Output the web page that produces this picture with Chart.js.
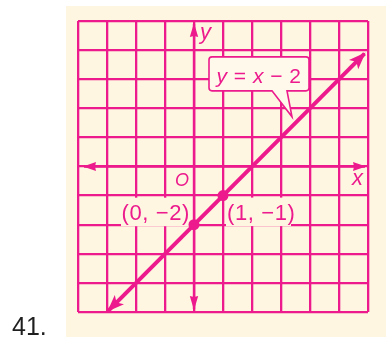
<!DOCTYPE html>
<html>
<head>
<meta charset="utf-8">
<script src="https://cdn.jsdelivr.net/npm/chart.js@4.4.0/dist/chart.umd.min.js"></script>
<style>
  html, body { margin: 0; padding: 0; background: #fff; }
  #wrap { position: relative; width: 386px; height: 339px; }
</style>
</head>
<body>
<div id="wrap"><canvas id="graph" width="386" height="339"></canvas></div>
<script>
// exercise 41: graph of y = x - 2
var xRange = [-4, 6];
var yRange = [-5, 5];
var lineX = [-2.95, 5.88];
var lineY = [-4.95, 3.88];
var pointX = [0, 1];
var pointY = [-2, -1];
var pointLabels = ["(0, \u22122)", "(1, \u22121)"];
var lineLabel = [["y", 1], [" = ", 0], ["x", 1], [" \u2212 2", 0]];
var exerciseNo = "41.";

var pink = "#ec1a8c",
  cream = "#fff6e1",
  fontName = "'Liberation Sans', Arial, sans-serif";

function font(size, italic) {
  return (italic ? "italic " : "") + size + "px " + fontName;
}

function arrowHead(ctx, x, y, ang, len, half, notch) {
  var c = Math.cos(ang), s = Math.sin(ang);
  function p(a, b) { return [x - a * c - b * s, y - a * s + b * c]; }
  var l = p(len, half), r = p(len, -half), m = p(len - notch, 0);
  ctx.beginPath();
  ctx.moveTo(x, y);
  ctx.lineTo(l[0], l[1]);
  ctx.lineTo(m[0], m[1]);
  ctx.lineTo(r[0], r[1]);
  ctx.closePath();
  ctx.fill();
}

function richText(ctx, parts, size, cx, y) {
  var w = 0, i;
  for (i = 0; i < parts.length; i++) {
    ctx.font = font(size, parts[i][1]);
    w += ctx.measureText(parts[i][0]).width;
  }
  var x = cx - w / 2;
  for (i = 0; i < parts.length; i++) {
    ctx.font = font(size, parts[i][1]);
    ctx.fillText(parts[i][0], x, y);
    x += ctx.measureText(parts[i][0]).width;
  }
}

var paper = {
  id: "paper",
  beforeDraw: function (c) {
    var ctx = c.ctx;
    ctx.save();
    ctx.fillStyle = "#fff";
    ctx.fillRect(0, 0, c.width, c.height);
    ctx.fillStyle = cream;
    ctx.fillRect(66, 6, 320, 331);
    ctx.fillStyle = "#1f1f1f";
    ctx.font = "25px " + fontName;
    ctx.textBaseline = "alphabetic";
    ctx.fillText(exerciseNo, 12, 335);
    ctx.restore();
  },
  beforeDatasetsDraw: function (c) {
    var ctx = c.ctx, sx = c.scales.x, sy = c.scales.y, a = c.chartArea;
    var ox = sx.getPixelForValue(0), oy = sy.getPixelForValue(0);
    ctx.save();
    // boxes behind the point labels hide the grid
    ctx.fillStyle = cream;
    var p0x = sx.getPixelForValue(pointX[0]), p0y = sy.getPixelForValue(pointY[0]);
    var p1x = sx.getPixelForValue(pointX[1]), p1y = sy.getPixelForValue(pointY[1]);
    ctx.fillRect(p0x - 73, p0y - 27, 70, 28.5);
    ctx.fillRect(p1x + 3, p1y + 2, 65, 28.5);

    // callout for the line label
    var ax = sx.getPixelForValue(3.5), ay = sy.getPixelForValue(1.5);
    var bl = ax - 86.5, br = ax + 13.5, bt = ay - 66, bb = ay - 32;
    ctx.fillStyle = "#fff9ec";
    ctx.strokeStyle = pink;
    ctx.lineWidth = 1.6;
    ctx.beginPath();
    ctx.moveTo(bl + 3, bt);
    ctx.lineTo(br - 3, bt);
    ctx.quadraticCurveTo(br, bt, br, bt + 3);
    ctx.lineTo(br, bb - 3);
    ctx.quadraticCurveTo(br, bb, br - 3, bb);
    ctx.lineTo(ax - 8.5, bb);
    ctx.lineTo(ax - 3.5, ay - 6);
    ctx.lineTo(ax - 23.5, bb);
    ctx.lineTo(bl + 3, bb);
    ctx.quadraticCurveTo(bl, bb, bl, bb - 3);
    ctx.lineTo(bl, bt + 3);
    ctx.quadraticCurveTo(bl, bt, bl + 3, bt);
    ctx.closePath();
    ctx.fill();
    ctx.stroke();
    ctx.fillStyle = pink;
    ctx.textBaseline = "alphabetic";
    ctx.letterSpacing = "0.5px";
    richText(ctx, lineLabel, 21, (bl + br) / 2, bb - 7.5);
    ctx.letterSpacing = "0px";

    // axes with arrows
    ctx.strokeStyle = pink;
    ctx.fillStyle = pink;
    ctx.lineWidth = 2.4;
    ctx.beginPath();
    ctx.moveTo(a.left + 6, oy);
    ctx.lineTo(a.right - 3, oy);
    ctx.moveTo(ox, a.top + 3);
    ctx.lineTo(ox, a.bottom - 3);
    ctx.stroke();
    arrowHead(ctx, a.left + 5, oy, Math.PI, 13, 4.4, 1);
    arrowHead(ctx, a.right - 2, oy, 0, 13, 4.4, 1);
    arrowHead(ctx, ox, a.top + 2, -Math.PI / 2, 14, 4.2, 1);
    arrowHead(ctx, ox, a.bottom - 2, Math.PI / 2, 14, 4.2, 1);
    ctx.restore();
  },
  afterDatasetsDraw: function (c) {
    var ctx = c.ctx, sx = c.scales.x, sy = c.scales.y, a = c.chartArea;
    var ox = sx.getPixelForValue(0), oy = sy.getPixelForValue(0);
    var pts = c.getDatasetMeta(1).data;
    ctx.save();
    ctx.fillStyle = pink;
    var n = pts.length - 1;
    var ang = Math.atan2(pts[n].y - pts[0].y, pts[n].x - pts[0].x);
    var ex = 1.5 * Math.cos(ang), ey = 1.5 * Math.sin(ang);
    arrowHead(ctx, pts[n].x + ex, pts[n].y + ey, ang, 17, 6.5, 4);
    arrowHead(ctx, pts[0].x - ex, pts[0].y - ey, ang + Math.PI, 17, 6.5, 4);

    ctx.textBaseline = "alphabetic";
    ctx.font = font(22, true);
    ctx.fillText("y", ox + 6, a.top + 18);
    ctx.fillText("x", a.right - 16, oy + 18.5);
    ctx.font = font(18, true);
    ctx.textAlign = "right";
    ctx.fillText("O", ox - 5, oy + 19);
    ctx.textAlign = "left";
    ctx.font = font(22, false);
    ctx.letterSpacing = "0.6px";
    ctx.fillText(pointLabels[0], sx.getPixelForValue(pointX[0]) - 72.5, sy.getPixelForValue(pointY[0]) - 5);
    ctx.fillText(pointLabels[1], sx.getPixelForValue(pointX[1]) + 4, sy.getPixelForValue(pointY[1]) + 24);
    ctx.restore();
  },
};

new Chart(document.getElementById("graph"), {
  type: "scatter",
  data: {
    datasets: [
      {
        data: pointX.map(function (v, i) { return { x: v, y: pointY[i] }; }),
        pointRadius: 5.5,
        pointBackgroundColor: pink,
        pointBorderWidth: 0,
      },
      {
        data: lineX.map(function (v, i) { return { x: v, y: lineY[i] }; }),
        showLine: true,
        borderColor: pink,
        borderWidth: 4,
        pointRadius: 0,
      },
    ],
  },
  options: {
    responsive: false,
    devicePixelRatio: 1,
    animation: false,
    events: [],
    layout: { padding: { left: 78, right: 18, top: 21, bottom: 27 } },
    plugins: { legend: { display: false }, tooltip: { enabled: false } },
    scales: {
      x: {
        type: "linear",
        min: xRange[0],
        max: xRange[1],
        ticks: { display: false, stepSize: 1 },
        grid: { color: pink, lineWidth: 2.3, drawTicks: false },
        border: { display: false },
      },
      y: {
        type: "linear",
        min: yRange[0],
        max: yRange[1],
        ticks: { display: false, stepSize: 1 },
        grid: { color: pink, lineWidth: 2.3, drawTicks: false },
        border: { display: false },
      },
    },
  },
  plugins: [paper],
});
</script>
</body>
</html>
